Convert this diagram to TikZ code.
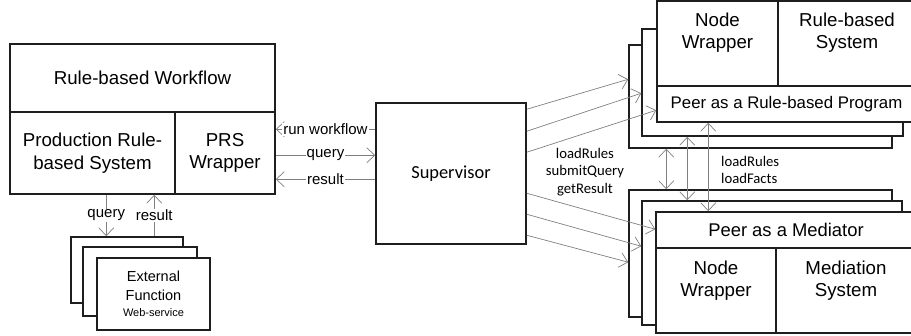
\documentclass[tikz,border=0pt]{standalone}
\usepackage{fontspec}
\setmainfont{Liberation Sans}
\newfontfamily\calibri{Carlito}
\usetikzlibrary{calc,arrows.meta}
\definecolor{boxline}{RGB}{30,30,30}
\definecolor{arrline}{RGB}{128,128,128}

\begin{document}
\begin{tikzpicture}[x=1pt, y=-1pt,
		box/.style={draw=boxline, line width=1.5pt, fill=white, inner sep=0pt, align=center,
			font=\fontsize{18.7}{22.5}\selectfont},
		boxtxt/.style={align=center, inner sep=0pt, font=\fontsize{18.7}{22}\selectfont},
		arr/.style={draw=arrline, line width=0.7pt, -{Straight Barb[length=8pt,width=15pt]}},
		darr/.style={draw=arrline, line width=0.7pt, {Straight Barb[length=8pt,width=15pt]}-{Straight Barb[length=8pt,width=15pt]}},
		lbl/.style={fill=white, inner sep=1pt, text=black, font=\fontsize{15}{18}\selectfont},
		calt/.style={align=center, inner sep=0pt, font=\calibri\fontsize{14.7}{17.5}\selectfont}]
	\useasboundingbox (0,0) rectangle (911,336);
	
	%%%%% workflow side %%%%%
	\node[box, minimum width=265pt, minimum height=68pt] (wf) at (142.5,78) {Rule-based Workflow};
	\node[box, minimum width=165pt, minimum height=82pt] (prod) at (92.5,153) {Production Rule-\\based System};
	\node[box, minimum width=100pt, minimum height=82pt] (prs) at (225,153) {PRS\\Wrapper};
	
	\node[box, minimum width=112pt, minimum height=66pt] (efC) at (127,270) {};
	\node[box, minimum width=114pt, minimum height=69pt] (efB) at (140,281.5) {};
	\node[box, minimum width=113pt, minimum height=72pt, font=\fontsize{14.5}{19}\selectfont] (efA) at (153.5,294)
		{External\\Function\\[-3pt]{\fontsize{11}{13}\selectfont Web-service}};
	
	\node[box, minimum width=150pt, minimum height=141pt, font=\calibri\fontsize{18.4}{22}\selectfont] (sup) at (451,173.5) {Supervisor};
	
	%%%%% rule-based peers %%%%%
	\node[box, minimum width=263pt, minimum height=103pt] (rpC) at (760.5,96.5) {};
	\node[box, minimum width=261pt, minimum height=107pt] (rpB) at (772.5,82.5) {};
	\node[box, minimum width=121pt, minimum height=85pt] (rpN) at (717.5,43.5) {};
	\node[boxtxt] (rpNt) at ([yshift=11pt]rpN.center) {Node\\Wrapper};
	\node[box, minimum width=138pt, minimum height=85pt] (rpR) at (847,43.5) {};
	\node[boxtxt] (rpRt) at ([yshift=11pt]rpR.center) {Rule-based\\System};
	\node[box, minimum width=259pt, minimum height=36pt, font=\fontsize{16.8}{20}\selectfont] (rpS) at (786.5,104) {Peer as a Rule-based Program};
	
	%%%%% mediator peers %%%%%
	\node[box, minimum width=263pt, minimum height=127pt] (mdC) at (760.5,253.5) {};
	\node[box, minimum width=260pt, minimum height=124pt] (mdB) at (772,263) {};
	\node[box, minimum width=260pt, minimum height=36pt, font=\fontsize{18.4}{22}\selectfont] (mdS) at (786,230) {Peer as a Mediator};
	\node[box, minimum width=120pt, minimum height=85pt] (mdN) at (716,290.5) {};
	\node[boxtxt] (mdNt) at ([yshift=10pt]mdN.center) {Node\\Wrapper};
	\node[box, minimum width=140pt, minimum height=85pt] (mdM) at (846,290.5) {};
	\node[boxtxt] (mdMt) at ([yshift=10pt]mdM.center) {Mediation\\System};
	
	%%%%% connectors %%%%%
	\draw[arr] ($(sup.north west)+(0,27)$) -- node[lbl] {run workflow} ($(prs.north east)+(0,18)$);
	\draw[arr] ($(prs.north east)+(0,44)$) -- node[lbl] {query} ($(sup.north west)+(0,53)$);
	\draw[arr] ($(sup.north west)+(0,77)$) -- node[lbl] {result} ($(prs.north east)+(0,68)$);
	
	\draw[arr] ($(prod.south west)+(97,0)$) -- node[lbl] {query} ($(efC.north west)+(36,0)$);
	\draw[arr] ($(efC.north west)+(84,0)$) -- node[lbl] {result} ($(prod.south west)+(145,0)$);
	
	\draw[arr] ($(sup.north east)+(0,7)$) -- ($(rpC.north west)+(0,35)$);
	\draw[arr] ($(sup.north east)+(0,29)$) -- ($(rpB.north west)+(0,65)$);
	\draw[arr] ($(sup.north east)+(0,50)$) -- ($(rpS.north west)+(0,25)$);
	
	\draw[arr] ($(sup.north east)+(0,91)$) -- ($(mdS.north west)+(0,18)$);
	\draw[arr] ($(sup.north east)+(0,112)$) -- ($(mdB.north west)+(0,46)$);
	\draw[arr] ($(sup.north east)+(0,133)$) -- ($(mdC.north west)+(0,73)$);
	
	\node[calt] (calls) at (585,172) {loadRules\\submitQuery\\getResult};
	
	\draw[darr] ($(rpC.south west)+(38,0)$) -- ($(mdC.north west)+(38,0)$);
	\draw[darr] ($(rpB.south west)+(46,0)$) -- ($(mdB.north west)+(46,0)$);
	\draw[darr] ($(rpS.south west)+(52,0)$) -- ($(mdS.north west)+(53,0)$);
	
	\node[calt, align=left, anchor=west] (loads) at (721,170) {loadRules\\loadFacts};
\end{tikzpicture}
\end{document}
